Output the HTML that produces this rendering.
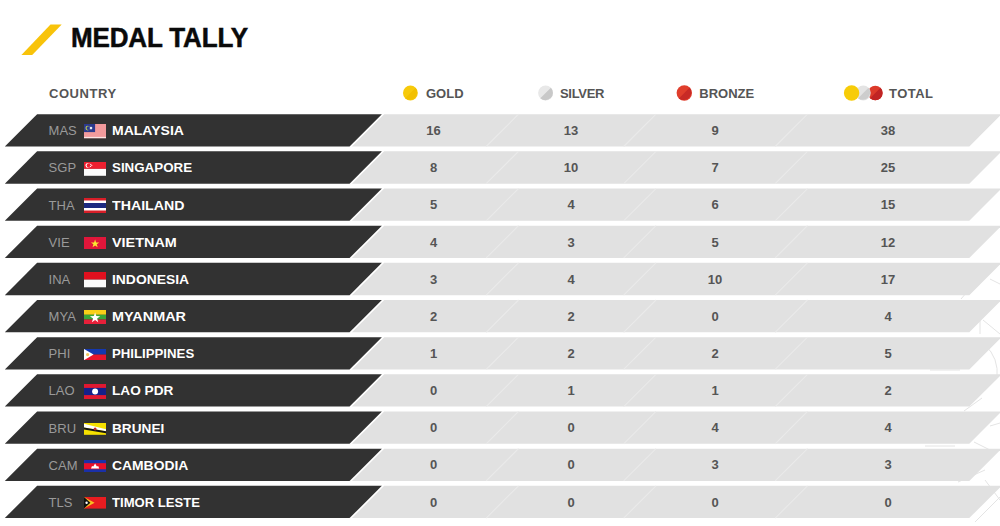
<!DOCTYPE html>
<html><head><meta charset="utf-8"><title>Medal Tally</title>
<style>
html,body{margin:0;padding:0;background:#fff;}
body{width:1000px;height:526px;position:relative;overflow:hidden;font-family:"Liberation Sans",Arial,sans-serif;}
.abs{position:absolute;}
#bg{position:absolute;left:0;top:0;}
.title{position:absolute;left:71px;top:21.7px;font-size:26px;font-weight:bold;color:#0a0a0a;line-height:30px;white-space:nowrap;letter-spacing:-0.15px;-webkit-text-stroke:0.5px #0a0a0a;transform:scaleY(1.06);transform-origin:0 0;}
.hd{position:absolute;top:85.8px;font-size:13px;font-weight:bold;color:#555555;line-height:16px;white-space:nowrap;}
.code{position:absolute;left:48.6px;font-size:13px;color:#9a9a9a;line-height:16px;white-space:nowrap;}
.fl{position:absolute;left:83.9px;width:22.2px;line-height:0;}
.flag{display:block;}
.name{position:absolute;left:112.2px;font-size:13px;font-weight:bold;color:#ffffff;line-height:16px;white-space:nowrap;transform-origin:0 50%;}
.num{position:absolute;width:60px;text-align:center;font-size:13px;font-weight:bold;color:#555555;line-height:16px;}
</style></head><body>
<svg id="bg" width="1000" height="526" viewBox="0 0 1000 526">
<polygon points="50.5,24.4 61.7,24.4 32.2,55.1 21.4,55.1" fill="#f8c30a"/>
<g fill="none" stroke="#e4e4e4" stroke-width="1">
<path d="M979,278 L961,299"/><path d="M990,279 L1000,284"/><path d="M983,320 L1000,334"/><path d="M980,320 L980,334"/>
<path d="M985,345 Q999,358 997,378"/><path d="M964,411 L982,398"/><path d="M974,442 L994,452"/><path d="M990,426 L1000,423"/>
<path d="M958,482 L985,470"/><path d="M975,522 L1000,497"/><path d="M930,370 L960,370"/><path d="M925,446 L955,446"/><path d="M985,480 L1000,500"/>
</g>
<polygon points="37.10,114.20 381.90,114.20 349.60,146.50 4.80,146.50" fill="#323232"/><polygon points="384.20,114.20 1001.60,114.20 969.30,146.50 351.90,146.50" fill="#e1e1e1"/><line x1="518.50" y1="114.20" x2="486.20" y2="146.50" stroke="#eaeaea" stroke-width="1.1"/><line x1="656.00" y1="114.20" x2="623.70" y2="146.50" stroke="#eaeaea" stroke-width="1.1"/><line x1="807.50" y1="114.20" x2="775.20" y2="146.50" stroke="#eaeaea" stroke-width="1.1"/><polygon points="37.10,151.36 381.90,151.36 349.60,183.66 4.80,183.66" fill="#323232"/><polygon points="384.20,151.36 1001.60,151.36 969.30,183.66 351.90,183.66" fill="#e1e1e1"/><line x1="518.50" y1="151.36" x2="486.20" y2="183.66" stroke="#eaeaea" stroke-width="1.1"/><line x1="656.00" y1="151.36" x2="623.70" y2="183.66" stroke="#eaeaea" stroke-width="1.1"/><line x1="807.50" y1="151.36" x2="775.20" y2="183.66" stroke="#eaeaea" stroke-width="1.1"/><polygon points="37.10,188.52 381.90,188.52 349.60,220.82 4.80,220.82" fill="#323232"/><polygon points="384.20,188.52 1001.60,188.52 969.30,220.82 351.90,220.82" fill="#e1e1e1"/><line x1="518.50" y1="188.52" x2="486.20" y2="220.82" stroke="#eaeaea" stroke-width="1.1"/><line x1="656.00" y1="188.52" x2="623.70" y2="220.82" stroke="#eaeaea" stroke-width="1.1"/><line x1="807.50" y1="188.52" x2="775.20" y2="220.82" stroke="#eaeaea" stroke-width="1.1"/><polygon points="37.10,225.68 381.90,225.68 349.60,257.98 4.80,257.98" fill="#323232"/><polygon points="384.20,225.68 1001.60,225.68 969.30,257.98 351.90,257.98" fill="#e1e1e1"/><line x1="518.50" y1="225.68" x2="486.20" y2="257.98" stroke="#eaeaea" stroke-width="1.1"/><line x1="656.00" y1="225.68" x2="623.70" y2="257.98" stroke="#eaeaea" stroke-width="1.1"/><line x1="807.50" y1="225.68" x2="775.20" y2="257.98" stroke="#eaeaea" stroke-width="1.1"/><polygon points="37.10,262.84 381.90,262.84 349.60,295.14 4.80,295.14" fill="#323232"/><polygon points="384.20,262.84 1001.60,262.84 969.30,295.14 351.90,295.14" fill="#e1e1e1"/><line x1="518.50" y1="262.84" x2="486.20" y2="295.14" stroke="#eaeaea" stroke-width="1.1"/><line x1="656.00" y1="262.84" x2="623.70" y2="295.14" stroke="#eaeaea" stroke-width="1.1"/><line x1="807.50" y1="262.84" x2="775.20" y2="295.14" stroke="#eaeaea" stroke-width="1.1"/><polygon points="37.10,300.00 381.90,300.00 349.60,332.30 4.80,332.30" fill="#323232"/><polygon points="384.20,300.00 1001.60,300.00 969.30,332.30 351.90,332.30" fill="#e1e1e1"/><line x1="518.50" y1="300.00" x2="486.20" y2="332.30" stroke="#eaeaea" stroke-width="1.1"/><line x1="656.00" y1="300.00" x2="623.70" y2="332.30" stroke="#eaeaea" stroke-width="1.1"/><line x1="807.50" y1="300.00" x2="775.20" y2="332.30" stroke="#eaeaea" stroke-width="1.1"/><polygon points="37.10,337.16 381.90,337.16 349.60,369.46 4.80,369.46" fill="#323232"/><polygon points="384.20,337.16 1001.60,337.16 969.30,369.46 351.90,369.46" fill="#e1e1e1"/><line x1="518.50" y1="337.16" x2="486.20" y2="369.46" stroke="#eaeaea" stroke-width="1.1"/><line x1="656.00" y1="337.16" x2="623.70" y2="369.46" stroke="#eaeaea" stroke-width="1.1"/><line x1="807.50" y1="337.16" x2="775.20" y2="369.46" stroke="#eaeaea" stroke-width="1.1"/><polygon points="37.10,374.32 381.90,374.32 349.60,406.62 4.80,406.62" fill="#323232"/><polygon points="384.20,374.32 1001.60,374.32 969.30,406.62 351.90,406.62" fill="#e1e1e1"/><line x1="518.50" y1="374.32" x2="486.20" y2="406.62" stroke="#eaeaea" stroke-width="1.1"/><line x1="656.00" y1="374.32" x2="623.70" y2="406.62" stroke="#eaeaea" stroke-width="1.1"/><line x1="807.50" y1="374.32" x2="775.20" y2="406.62" stroke="#eaeaea" stroke-width="1.1"/><polygon points="37.10,411.48 381.90,411.48 349.60,443.78 4.80,443.78" fill="#323232"/><polygon points="384.20,411.48 1001.60,411.48 969.30,443.78 351.90,443.78" fill="#e1e1e1"/><line x1="518.50" y1="411.48" x2="486.20" y2="443.78" stroke="#eaeaea" stroke-width="1.1"/><line x1="656.00" y1="411.48" x2="623.70" y2="443.78" stroke="#eaeaea" stroke-width="1.1"/><line x1="807.50" y1="411.48" x2="775.20" y2="443.78" stroke="#eaeaea" stroke-width="1.1"/><polygon points="37.10,448.64 381.90,448.64 349.60,480.94 4.80,480.94" fill="#323232"/><polygon points="384.20,448.64 1001.60,448.64 969.30,480.94 351.90,480.94" fill="#e1e1e1"/><line x1="518.50" y1="448.64" x2="486.20" y2="480.94" stroke="#eaeaea" stroke-width="1.1"/><line x1="656.00" y1="448.64" x2="623.70" y2="480.94" stroke="#eaeaea" stroke-width="1.1"/><line x1="807.50" y1="448.64" x2="775.20" y2="480.94" stroke="#eaeaea" stroke-width="1.1"/><polygon points="37.10,485.80 381.90,485.80 349.60,518.10 4.80,518.10" fill="#323232"/><polygon points="384.20,485.80 1001.60,485.80 969.30,518.10 351.90,518.10" fill="#e1e1e1"/><line x1="518.50" y1="485.80" x2="486.20" y2="518.10" stroke="#eaeaea" stroke-width="1.1"/><line x1="656.00" y1="485.80" x2="623.70" y2="518.10" stroke="#eaeaea" stroke-width="1.1"/><line x1="807.50" y1="485.80" x2="775.20" y2="518.10" stroke="#eaeaea" stroke-width="1.1"/>
<circle cx="410.4" cy="93" r="7.4" fill="#f7ca0a"/>
<path d="M415.6,87.8 A7.4,7.4 0 0 1 405.2,98.2 Z" fill="#f2c000"/>
<circle cx="545.6" cy="93" r="7.5" fill="#e8e8e8"/>
<path d="M550.9,87.7 A7.5,7.5 0 0 1 540.3,98.3 Z" fill="#c8c8c8"/>
<circle cx="684.3" cy="93" r="7.7" fill="#e03e2c"/>
<path d="M689.7,87.6 A7.7,7.7 0 0 1 678.9,98.4 Z" fill="#c82a26"/>
<circle cx="875.3" cy="93" r="7.3" fill="#dc3a2a"/>
<path d="M880.5,87.8 A7.3,7.3 0 0 1 870.1,98.2 Z" fill="#c02424"/>
<circle cx="863.3" cy="93" r="7.4" fill="#e4e4e4"/>
<path d="M868.5,87.8 A7.4,7.4 0 0 1 858.1,98.2 Z" fill="#cdcdcd"/>
<circle cx="851.6" cy="93" r="7.7" fill="#f7cc08"/>
</svg>
<div class="title">MEDAL TALLY</div>
<div class="hd" style="left:49px;letter-spacing:0.55px">COUNTRY</div>
<div class="hd" style="left:426px">GOLD</div>
<div class="hd" style="left:560px;letter-spacing:-0.3px">SILVER</div>
<div class="hd" style="left:699.3px">BRONZE</div>
<div class="hd" style="left:889px;letter-spacing:0.45px">TOTAL</div>
<div class="code" style="top:123.25px">MAS</div>
<div class="fl" style="top:124.40px"><svg class="flag" width="22.2" height="14.2" viewBox="0 0 22.2 14.2"><rect width="22.2" height="14.2" fill="#f29a9c"/><rect y="12.90" width="22.2" height="1.3" fill="#fbe4e4"/><rect width="11.10" height="8.11" fill="#2c3a8e"/><circle cx="3.7" cy="4.1" r="2.3" fill="#b8c850"/><circle cx="4.5" cy="4.1" r="1.9" fill="#2c3a8e"/><circle cx="7" cy="4.1" r="1.3" fill="#e8ecf0"/></svg></div>
<div class="name" style="top:123.25px;transform:scaleX(1.078)">MALAYSIA</div>
<div class="num" style="top:123.05px;left:403.50px">16</div>
<div class="num" style="top:123.05px;left:541.00px">13</div>
<div class="num" style="top:123.05px;left:685.00px">9</div>
<div class="num" style="top:123.05px;left:858.00px">38</div>
<div class="code" style="top:160.41px">SGP</div>
<div class="fl" style="top:161.76px"><svg class="flag" width="22.2" height="13.8" viewBox="0 0 22.2 13.8"><rect width="22.2" height="6.9" fill="#ee2030"/><rect y="6.9" width="22.2" height="6.9" fill="#fbfbfb"/><circle cx="4.0" cy="3.5" r="2.5" fill="#fff"/><circle cx="4.9" cy="3.5" r="2.2" fill="#ee2030"/><circle cx="6.8" cy="2.4" r="0.6" fill="#fff"/><circle cx="7.8" cy="3.6" r="0.6" fill="#fff"/><circle cx="6.4" cy="4.4" r="0.6" fill="#fff"/></svg></div>
<div class="name" style="top:160.41px;transform:scaleX(1.026)">SINGAPORE</div>
<div class="num" style="top:160.21px;left:403.50px">8</div>
<div class="num" style="top:160.21px;left:541.00px">10</div>
<div class="num" style="top:160.21px;left:685.00px">7</div>
<div class="num" style="top:160.21px;left:858.00px">25</div>
<div class="code" style="top:197.57px">THA</div>
<div class="fl" style="top:198.32px"><svg class="flag" width="22.2" height="15.0" viewBox="0 0 22.2 15.0"><rect width="22.2" height="15.0" fill="#d81e28"/><rect y="2.50" width="22.2" height="10.00" fill="#ffffff"/><rect y="5.00" width="22.2" height="5.00" fill="#1c2a80"/></svg></div>
<div class="name" style="top:197.57px;transform:scaleX(1.092)">THAILAND</div>
<div class="num" style="top:197.37px;left:403.50px">5</div>
<div class="num" style="top:197.37px;left:541.00px">4</div>
<div class="num" style="top:197.37px;left:685.00px">6</div>
<div class="num" style="top:197.37px;left:858.00px">15</div>
<div class="code" style="top:234.73px">VIE</div>
<div class="fl" style="top:236.68px"><svg class="flag" width="22.2" height="12.6" viewBox="0 0 22.2 12.6"><rect width="22.2" height="12.6" fill="#e0163a"/><polygon points="11.10,2.40 12.13,5.38 15.28,5.44 12.77,7.34 13.69,10.36 11.10,8.56 8.51,10.36 9.43,7.34 6.92,5.44 10.07,5.38" fill="#f8e830"/></svg></div>
<div class="name" style="top:234.73px;transform:scaleX(1.107)">VIETNAM</div>
<div class="num" style="top:234.53px;left:403.50px">4</div>
<div class="num" style="top:234.53px;left:541.00px">3</div>
<div class="num" style="top:234.53px;left:685.00px">5</div>
<div class="num" style="top:234.53px;left:858.00px">12</div>
<div class="code" style="top:271.89px">INA</div>
<div class="fl" style="top:272.49px"><svg class="flag" width="22.2" height="15.3" viewBox="0 0 22.2 15.3"><rect width="22.2" height="7.65" fill="#e0101e"/><rect y="7.65" width="22.2" height="7.65" fill="#fbfbfb"/></svg></div>
<div class="name" style="top:271.89px;transform:scaleX(1.067)">INDONESIA</div>
<div class="num" style="top:271.69px;left:403.50px">3</div>
<div class="num" style="top:271.69px;left:541.00px">4</div>
<div class="num" style="top:271.69px;left:685.00px">10</div>
<div class="num" style="top:271.69px;left:858.00px">17</div>
<div class="code" style="top:309.05px">MYA</div>
<div class="fl" style="top:310.15px"><svg class="flag" width="22.2" height="14.3" viewBox="0 0 22.2 14.3"><rect width="22.2" height="4.77" fill="#f8d018"/><rect y="4.77" width="22.2" height="4.77" fill="#3aa838"/><rect y="9.53" width="22.2" height="4.77" fill="#e8203a"/><polygon points="11.10,2.45 12.37,6.10 16.24,6.18 13.15,8.52 14.27,12.22 11.10,10.01 7.93,12.22 9.05,8.52 5.96,6.18 9.83,6.10" fill="#ffffff"/></svg></div>
<div class="name" style="top:309.05px;transform:scaleX(1.109)">MYANMAR</div>
<div class="num" style="top:308.85px;left:403.50px">2</div>
<div class="num" style="top:308.85px;left:541.00px">2</div>
<div class="num" style="top:308.85px;left:685.00px">0</div>
<div class="num" style="top:308.85px;left:858.00px">4</div>
<div class="code" style="top:346.21px">PHI</div>
<div class="fl" style="top:348.86px"><svg class="flag" width="22.2" height="11.2" viewBox="0 0 22.2 11.2"><rect width="22.2" height="5.6" fill="#1438b0"/><rect y="5.6" width="22.2" height="5.6" fill="#e8142c"/><polygon points="0,0 9.60,5.6 0,11.2" fill="#ffffff"/><circle cx="3.6" cy="5.6" r="1.6" fill="#f0c860"/></svg></div>
<div class="name" style="top:346.21px;transform:scaleX(1.016)">PHILIPPINES</div>
<div class="num" style="top:346.01px;left:403.50px">1</div>
<div class="num" style="top:346.01px;left:541.00px">2</div>
<div class="num" style="top:346.01px;left:685.00px">2</div>
<div class="num" style="top:346.01px;left:858.00px">5</div>
<div class="code" style="top:383.37px">LAO</div>
<div class="fl" style="top:384.12px"><svg class="flag" width="22.2" height="15.0" viewBox="0 0 22.2 15.0"><rect width="22.2" height="15.0" fill="#e01830"/><rect y="3.90" width="22.2" height="7.20" fill="#14208a"/><circle cx="11.1" cy="7.5" r="3.0" fill="#ffffff"/></svg></div>
<div class="name" style="top:383.37px;transform:scaleX(1.048)">LAO PDR</div>
<div class="num" style="top:383.17px;left:403.50px">0</div>
<div class="num" style="top:383.17px;left:541.00px">1</div>
<div class="num" style="top:383.17px;left:685.00px">1</div>
<div class="num" style="top:383.17px;left:858.00px">2</div>
<div class="code" style="top:420.53px">BRU</div>
<div class="fl" style="top:422.88px"><svg class="flag" width="22.2" height="11.8" viewBox="0 0 22.2 11.8"><rect width="22.2" height="11.8" fill="#f6e000"/><polygon points="0,0.8 0,4.4 22.2,8.30 22.2,6.20" fill="#ffffff"/><polygon points="0,4.4 0,6.4 22.2,10.20 22.2,8.30" fill="#141414"/><circle cx="11.1" cy="5.9" r="1.5" fill="#c02828"/></svg></div>
<div class="name" style="top:420.53px;transform:scaleX(1.049)">BRUNEI</div>
<div class="num" style="top:420.33px;left:403.50px">0</div>
<div class="num" style="top:420.33px;left:541.00px">0</div>
<div class="num" style="top:420.33px;left:685.00px">4</div>
<div class="num" style="top:420.33px;left:858.00px">4</div>
<div class="code" style="top:457.69px">CAM</div>
<div class="fl" style="top:459.84px"><svg class="flag" width="22.2" height="12.2" viewBox="0 0 22.2 12.2"><rect width="22.2" height="12.2" fill="#1a30a8"/><rect y="3.17" width="22.2" height="6.10" fill="#e8102a"/><polygon points="7,8.50 8,5.90 9.3,6.40 11.1,3.50 12.9,6.40 14.2,5.90 15.2,8.50" fill="#ffffff"/></svg></div>
<div class="name" style="top:457.69px;transform:scaleX(1.068)">CAMBODIA</div>
<div class="num" style="top:457.49px;left:403.50px">0</div>
<div class="num" style="top:457.49px;left:541.00px">0</div>
<div class="num" style="top:457.49px;left:685.00px">3</div>
<div class="num" style="top:457.49px;left:858.00px">3</div>
<div class="code" style="top:494.85px">TLS</div>
<div class="fl" style="top:497.30px"><svg class="flag" width="22.2" height="11.6" viewBox="0 0 22.2 11.6"><rect width="22.2" height="11.6" fill="#e81c20"/><polygon points="0,0 10.60,5.8 0,11.6" fill="#f8c020"/><polygon points="0,0 6.40,5.8 0,11.6" fill="#111111"/><circle cx="2.6" cy="5.8" r="1.2" fill="#ffffff"/></svg></div>
<div class="name" style="top:494.85px;transform:scaleX(1.007)">TIMOR LESTE</div>
<div class="num" style="top:494.65px;left:403.50px">0</div>
<div class="num" style="top:494.65px;left:541.00px">0</div>
<div class="num" style="top:494.65px;left:685.00px">0</div>
<div class="num" style="top:494.65px;left:858.00px">0</div>
</body></html>
